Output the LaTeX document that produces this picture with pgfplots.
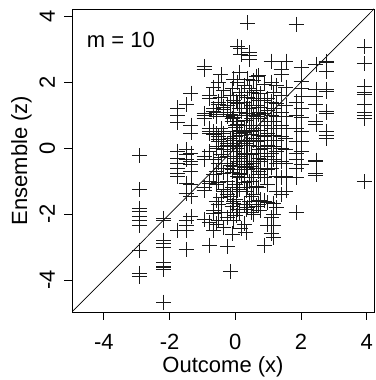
\documentclass[border=0pt]{standalone}
\usepackage{pgfplots}
\pgfplotsset{compat=1.18}
\usepackage{fontspec}
\setmainfont{Liberation Sans}
\begin{document}
\fontsize{22}{26}\selectfont
\begin{tikzpicture}
\begin{axis}[
  scale only axis, width=302pt, height=303pt,
  xmin=-4.97, xmax=4.22, ymin=-4.97, ymax=4.22,
  axis line style={line width=0.8pt},
  xtick={-4,-2,0,2,4}, ytick={-4,-2,0,2,4},
  xticklabels={-4,-2,0,2,4}, yticklabels={-4,-2,0,2,4},
  xtick pos=bottom, ytick pos=left,
  tick align=outside, major tick length=8pt,
  tick style={line width=0.8pt, black},
  xticklabel style={anchor=base, inner sep=0pt},
  yticklabel style={rotate=90, anchor=base, inner sep=0pt},
  xticklabel shift=30pt, yticklabel shift=9pt,
  xlabel={Outcome (x)},
  xlabel style={at={(axis description cs:0.5,-0.201)}, anchor=base, inner sep=0pt},
  ylabel={Ensemble (z)},
  ylabel style={at={(axis description cs:-0.149,0.5)}, anchor=base, inner sep=0pt},
]
\addplot[no marks, line width=0.7pt, black] coordinates {(-6,-6) (6,6)};
\addplot[only marks, mark=+, mark size=7.5pt, mark options={line width=0.65pt, black!90}] table[row sep=\\] {
x y\\
-2.92 -0.23\\ -2.92 -1.25\\ -2.92 -1.82\\ -2.92 -1.93\\ -2.92 -2.06\\ -2.92 -2.18\\ -2.92 -2.34\\ -2.92 -3.10\\ -2.92 -3.80\\ -2.92 -3.90\\
-2.18 -2.13\\ -2.18 -2.18\\ -2.18 -2.79\\ -2.18 -2.89\\ -2.18 -3.00\\ -2.18 -3.45\\ -2.18 -3.58\\ -2.18 -3.62\\ -2.18 -3.68\\ -2.18 -4.67\\
-1.50 1.32\\ -1.50 -0.05\\ -1.50 -0.20\\ -1.50 -0.35\\ -1.50 -1.07\\ -1.50 -1.37\\ -1.50 -2.18\\ -1.50 -2.33\\ -1.50 -2.49\\ -1.50 -3.07\\
-1.75 1.22\\ -1.75 1.01\\ -1.75 0.77\\ -1.75 -0.10\\ -1.75 -0.30\\ -1.75 -0.45\\ -1.75 -0.60\\ -1.75 -0.75\\ -1.75 -0.87\\ -1.75 -2.49\\
-1.35 1.67\\ -1.35 0.70\\ -1.35 0.46\\ -1.35 -0.15\\ -1.35 -0.40\\ -1.35 -0.50\\ -1.35 -0.70\\ -1.35 -1.10\\ -1.35 -1.47\\ -1.35 -2.08\\
-0.95 2.48\\ -0.95 2.38\\ -0.95 1.05\\ -0.95 0.98\\ -0.95 0.90\\ -0.95 -0.25\\ -0.95 -0.35\\ -0.95 -1.20\\ -0.95 -1.28\\ -0.95 -2.15\\
-0.79 1.60\\ -0.79 1.52\\ -0.79 0.60\\ -0.79 0.52\\ -0.79 0.45\\ -0.79 -0.10\\ -0.79 -1.00\\ -0.79 -1.08\\ -0.79 -2.25\\ -0.79 -2.94\\
-0.66 1.85\\ -0.66 1.20\\ -0.66 1.12\\ -0.66 0.50\\ -0.66 0.42\\ -0.66 -0.35\\ -0.66 -0.80\\ -0.66 -1.90\\ -0.66 -1.98\\ -0.66 -2.49\\
-0.58 1.10\\ -0.58 1.02\\ -0.58 0.95\\ -0.58 0.45\\ -0.58 0.05\\ -0.58 -0.02\\ -0.58 -0.70\\ -0.58 -1.10\\ -0.58 -1.60\\ -0.58 -2.30\\
-0.52 2.00\\ -0.52 1.40\\ -0.52 1.32\\ -0.52 0.35\\ -0.52 0.28\\ -0.52 0.20\\ -0.52 -0.45\\ -0.52 -1.05\\ -0.52 -1.70\\ -0.52 -2.20\\
-0.44 2.23\\ -0.44 1.55\\ -0.44 0.60\\ -0.44 0.52\\ -0.44 0.20\\ -0.44 -0.20\\ -0.44 -0.28\\ -0.44 -0.60\\ -0.44 -1.50\\ -0.44 -1.95\\
-0.35 1.75\\ -0.35 1.25\\ -0.35 1.17\\ -0.35 0.45\\ -0.35 0.05\\ -0.35 -0.03\\ -0.35 -0.75\\ -0.35 -1.25\\ -0.35 -1.32\\ -0.35 -2.40\\
-0.24 1.30\\ -0.24 0.95\\ -0.24 0.15\\ -0.24 0.08\\ -0.24 -0.25\\ -0.24 -0.60\\ -0.24 -1.00\\ -0.24 -1.40\\ -0.24 -2.10\\ -0.24 -2.99\\
-0.15 1.60\\ -0.15 1.10\\ -0.15 1.02\\ -0.15 0.30\\ -0.15 -0.10\\ -0.15 -0.45\\ -0.15 -0.52\\ -0.15 -1.45\\ -0.15 -1.95\\ -0.15 -3.74\\
-0.10 1.80\\ -0.10 0.90\\ -0.10 0.82\\ -0.10 0.50\\ -0.10 0.15\\ -0.10 -0.65\\ -0.10 -0.72\\ -0.10 -1.20\\ -0.10 -1.75\\ -0.10 -2.60\\
-0.05 2.10\\ -0.05 1.45\\ -0.05 1.00\\ -0.05 0.92\\ -0.05 0.25\\ -0.05 -0.10\\ -0.05 -0.55\\ -0.05 -1.60\\ -0.05 -1.68\\ -0.05 -2.20\\
0.02 1.40\\ 0.02 0.70\\ 0.02 0.62\\ 0.02 0.35\\ 0.02 0.05\\ 0.02 -0.30\\ 0.02 -1.10\\ 0.02 -1.18\\ 0.02 -1.55\\ 0.02 -2.05\\
0.07 3.09\\ 0.07 2.00\\ 0.07 1.35\\ 0.07 0.80\\ 0.07 0.72\\ 0.07 0.00\\ 0.07 -0.40\\ 0.07 -0.85\\ 0.07 -1.30\\ 0.07 -1.85\\
0.12 2.30\\ 0.12 1.60\\ 0.12 1.20\\ 0.12 0.45\\ 0.12 0.38\\ 0.12 0.10\\ 0.12 -0.25\\ 0.12 -0.75\\ 0.12 -1.25\\ 0.12 -1.95\\
0.17 3.04\\ 0.17 2.84\\ 0.17 1.70\\ 0.17 1.10\\ 0.17 0.55\\ 0.17 0.15\\ 0.17 -0.30\\ 0.17 -0.80\\ 0.17 -0.88\\ 0.17 -2.44\\
0.27 1.90\\ 0.27 1.40\\ 0.27 0.55\\ 0.27 0.48\\ 0.27 0.20\\ 0.27 -0.15\\ 0.27 -0.55\\ 0.27 -1.05\\ 0.27 -1.70\\ 0.27 -2.30\\
0.32 1.20\\ 0.32 0.85\\ 0.32 0.50\\ 0.32 0.15\\ 0.32 -0.20\\ 0.32 -0.50\\ 0.32 -0.58\\ 0.32 -1.30\\ 0.32 -1.85\\ 0.32 -2.55\\
0.37 3.80\\ 0.37 2.10\\ 0.37 1.55\\ 0.37 1.05\\ 0.37 0.98\\ 0.37 0.25\\ 0.37 -0.20\\ 0.37 -0.65\\ 0.37 -1.20\\ 0.37 -1.80\\
0.43 2.90\\ 0.43 2.80\\ 0.43 2.69\\ 0.43 1.80\\ 0.43 1.20\\ 0.43 0.70\\ 0.43 0.10\\ 0.43 -0.40\\ 0.43 -1.00\\ 0.43 -1.60\\
0.50 1.70\\ 0.50 1.30\\ 0.50 0.90\\ 0.50 0.50\\ 0.50 0.42\\ 0.50 -0.20\\ 0.50 -0.55\\ 0.50 -1.00\\ 0.50 -1.45\\ 0.50 -1.95\\
0.55 2.05\\ 0.55 1.50\\ 0.55 1.00\\ 0.55 0.60\\ 0.55 0.30\\ 0.55 0.22\\ 0.55 -0.45\\ 0.55 -0.90\\ 0.55 -1.40\\ 0.55 -2.00\\
0.63 2.18\\ 0.63 1.75\\ 0.63 1.30\\ 0.63 0.95\\ 0.63 0.55\\ 0.63 0.20\\ 0.63 -0.15\\ 0.63 -0.60\\ 0.63 -1.15\\ 0.63 -1.75\\
0.70 2.20\\ 0.70 1.45\\ 0.70 1.10\\ 0.70 1.02\\ 0.70 0.40\\ 0.70 0.05\\ 0.70 -0.30\\ 0.70 -0.70\\ 0.70 -1.20\\ 0.70 -1.70\\
0.75 1.65\\ 0.75 1.25\\ 0.75 0.90\\ 0.75 0.55\\ 0.75 0.25\\ 0.75 -0.05\\ 0.75 -0.40\\ 0.75 -0.80\\ 0.75 -1.57\\ 0.75 -1.88\\
0.88 1.95\\ 0.88 1.45\\ 0.88 1.05\\ 0.88 0.70\\ 0.88 0.35\\ 0.88 0.00\\ 0.88 -0.35\\ 0.88 -0.90\\ 0.88 -1.60\\ 0.88 -2.94\\
0.98 1.50\\ 0.98 1.15\\ 0.98 0.80\\ 0.98 0.45\\ 0.98 0.10\\ 0.98 -0.25\\ 0.98 -0.65\\ 0.98 -1.10\\ 0.98 -1.65\\ 0.98 -2.33\\
1.09 2.64\\ 1.09 2.00\\ 1.09 1.40\\ 1.09 1.00\\ 1.09 0.60\\ 1.09 0.25\\ 1.09 -0.15\\ 1.09 -0.60\\ 1.09 -2.10\\ 1.09 -2.58\\
1.16 1.70\\ 1.16 1.20\\ 1.16 0.80\\ 1.16 0.40\\ 1.16 0.05\\ 1.16 -0.35\\ 1.16 -1.67\\ 1.16 -2.00\\ 1.16 -2.35\\ 1.16 -2.70\\
1.25 1.90\\ 1.25 1.35\\ 1.25 0.95\\ 1.25 0.60\\ 1.25 0.25\\ 1.25 -0.10\\ 1.25 -0.45\\ 1.25 -0.85\\ 1.25 -1.30\\ 1.25 -1.80\\
1.39 2.38\\ 1.39 2.23\\ 1.39 1.60\\ 1.39 1.10\\ 1.39 0.70\\ 1.39 0.35\\ 1.39 0.00\\ 1.39 -0.40\\ 1.39 -0.90\\ 1.39 -1.40\\
1.54 2.64\\ 1.54 1.85\\ 1.54 1.30\\ 1.54 0.95\\ 1.54 0.60\\ 1.54 0.30\\ 1.54 -0.05\\ 1.54 -0.45\\ 1.54 -0.85\\ 1.54 -1.30\\
1.85 3.75\\ 1.85 1.40\\ 1.85 1.00\\ 1.85 0.60\\ 1.85 0.20\\ 1.85 -0.15\\ 1.85 -0.35\\ 1.85 -0.60\\ 1.85 -0.90\\ 1.85 -1.96\\
2.00 2.44\\ 2.00 2.02\\ 2.00 1.80\\ 2.00 1.56\\ 2.00 1.22\\ 2.00 0.92\\ 2.00 0.50\\ 2.00 0.20\\ 2.00 -0.10\\ 2.00 -0.50\\
2.45 2.54\\ 2.45 1.77\\ 2.45 1.57\\ 2.45 1.32\\ 2.45 0.81\\ 2.45 0.71\\ 2.45 -0.36\\ 2.45 -0.41\\ 2.45 -0.76\\ 2.45 -0.81\\
2.76 2.64\\ 2.76 2.59\\ 2.76 2.33\\ 2.76 1.77\\ 2.76 1.72\\ 2.76 1.11\\ 2.76 1.07\\ 2.76 0.51\\ 2.76 0.40\\ 2.76 0.30\\
3.93 3.07\\ 3.93 2.57\\ 3.93 1.86\\ 3.93 1.70\\ 3.93 1.62\\ 3.93 1.32\\ 3.93 1.10\\ 3.93 1.00\\ 3.93 0.90\\ 3.93 -1.02\\
};
\node[anchor=base west, inner sep=0pt] at (axis cs:-4.52,3.05) {m = 10};
\end{axis}
\pgfresetboundingbox
\path (current axis.south west) ++(-72pt,-68pt) rectangle ++(375pt,380pt);
\end{tikzpicture}
\end{document}
